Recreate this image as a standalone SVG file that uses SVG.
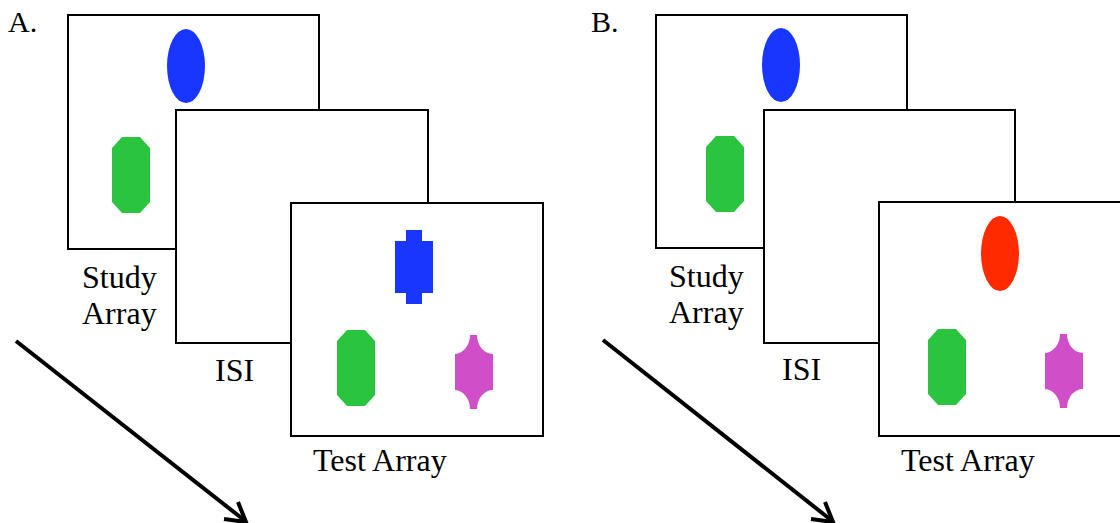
<svg xmlns="http://www.w3.org/2000/svg" width="1120" height="523" viewBox="0 0 1120 523">
  <style>
    .frame { fill: #ffffff; stroke: #000000; stroke-width: 2; }
    .lbl { font-family: "Liberation Serif", "Times New Roman", serif; font-size: 32px; fill: #000000; }
    .tag { font-family: "Liberation Serif", "Times New Roman", serif; font-size: 30px; fill: #000000; }
    .blue { fill: #1836ff; }
    .green { fill: #2ac43e; }
    .magenta { fill: #d04fc8; }
    .red { fill: #ff2a00; }
    .arrow { fill: none; stroke: #000000; stroke-width: 4; stroke-linecap: butt; stroke-linejoin: miter; }
  </style>
  <defs>
    <!-- item shapes, drawn with top-left at (0,0), 38 wide -->
    <polygon id="octagon" points="10,0 28,0 38,11 38,65 28,76 10,76 0,65 0,11"/>
    <path id="cross" d="M11,0 H27 V11 H38 V63 H27 V74 H11 V63 H0 V11 H11 Z"/>
    <path id="notched" d="M15,0 H22 A16,19 0 0 0 38,19 V55 A16,19 0 0 0 22,74 H15 A16,19 0 0 0 0,55 V19 A16,19 0 0 0 15,0 Z"/>
  </defs>

  <!-- Panel A -->
  <g id="panelA">
    <text class="tag" x="8" y="32">A.</text>
    <g id="A-study">
      <rect class="frame" x="68" y="15" width="251" height="234"/>
      <ellipse class="blue" cx="186" cy="66" rx="19" ry="37"/>
      <use href="#octagon" class="green" x="112" y="137"/>
      <text class="lbl" x="82" y="288">Study</text>
      <text class="lbl" x="82" y="324">Array</text>
    </g>
    <g id="A-isi">
      <rect class="frame" x="176" y="110" width="252" height="233"/>
      <text class="lbl" x="215" y="381">ISI</text>
    </g>
    <g id="A-test">
      <rect class="frame" x="291" y="203" width="252" height="233"/>
      <use href="#cross" class="blue" x="395" y="230"/>
      <use href="#octagon" class="green" x="337" y="330"/>
      <use href="#notched" class="magenta" x="455" y="335"/>
      <text class="lbl" x="313" y="471">Test Array</text>
    </g>
  </g>

  <!-- Panel B -->
  <g id="panelB">
    <text class="tag" x="591" y="32">B.</text>
    <g id="B-study">
      <rect class="frame" x="656" y="15" width="251" height="233"/>
      <ellipse class="blue" cx="781" cy="65" rx="19" ry="37"/>
      <use href="#octagon" class="green" x="706" y="136"/>
      <text class="lbl" x="669" y="287">Study</text>
      <text class="lbl" x="669" y="323">Array</text>
    </g>
    <g id="B-isi">
      <rect class="frame" x="764" y="110" width="251" height="233"/>
      <text class="lbl" x="782" y="380">ISI</text>
    </g>
    <g id="B-test">
      <rect class="frame" x="879" y="202" width="260" height="234"/>
      <ellipse class="red" cx="1000" cy="253.5" rx="19" ry="37.5"/>
      <use href="#octagon" class="green" x="928" y="329"/>
      <use href="#notched" class="magenta" x="1045" y="334"/>
      <text class="lbl" x="901" y="471">Test Array</text>
    </g>
  </g>

  <!-- time arrows -->
  <g id="connectors">
    <line class="arrow" x1="16" y1="341" x2="244" y2="520"/>
    <polyline class="arrow" points="238,502 246,522 224,519"/>
    <line class="arrow" x1="603" y1="340" x2="831" y2="520"/>
    <polyline class="arrow" points="825,502 833,522 811,519"/>
  </g>
</svg>
